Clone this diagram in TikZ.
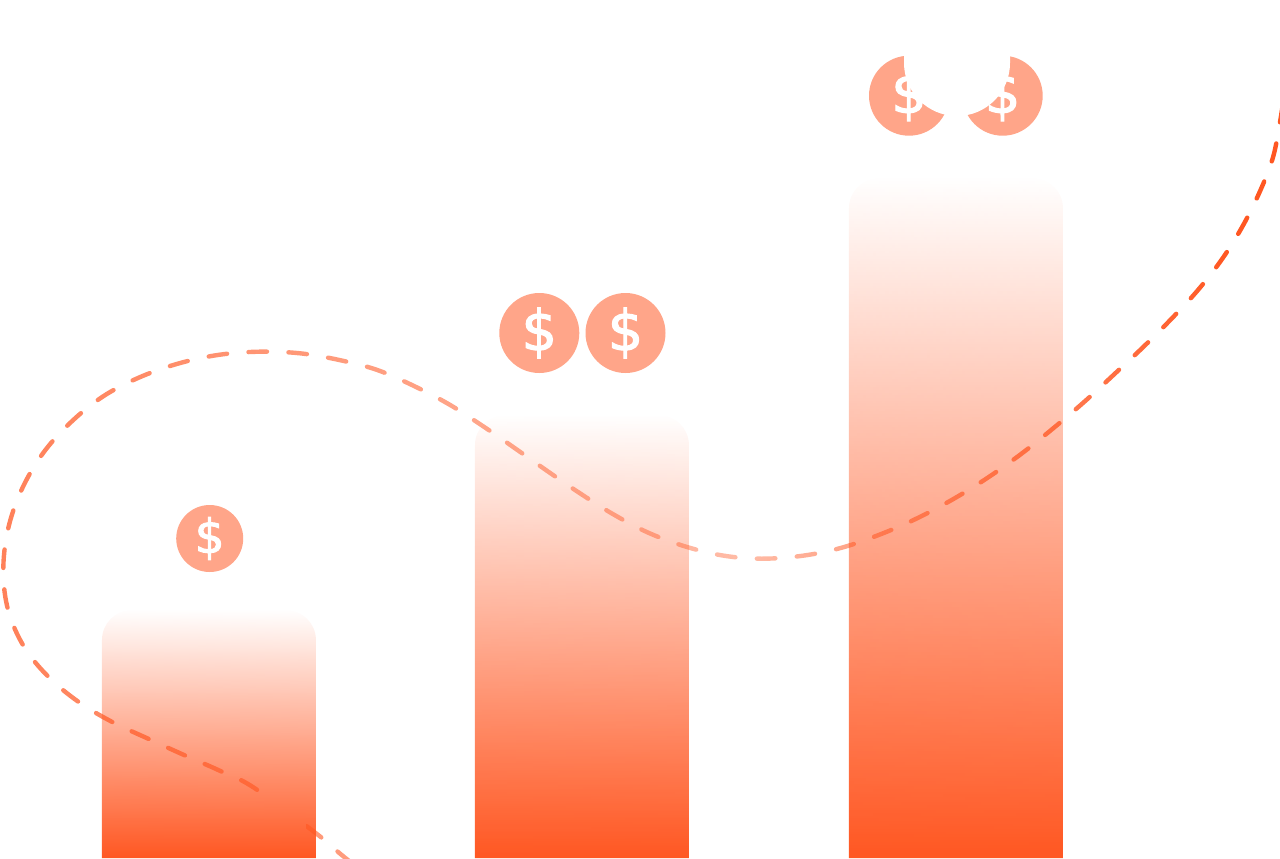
\documentclass[tikz,border=0pt]{standalone}
\usepackage{fontspec}
\setmainfont{DejaVu Sans}[FakeBold=2]
\usetikzlibrary{fadings}

\definecolor{barcolor}{HTML}{FF5722}
\definecolor{coincolor}{HTML}{FFA589}
\definecolor{trendcolor}{HTML}{FF5722}
\tikzfading[name=barfade, top color=transparent!100, bottom color=transparent!0]
\tikzfading[name=trendfadeleft, left color=transparent!75, right color=transparent!40]
\tikzfading[name=trendfaderight, left color=transparent!40, right color=transparent!100]
\tikzset{
  bar/.style={fill=barcolor, path fading=barfade},
  trend/.style={trendcolor, line width=4.4pt, line cap=round, dash pattern=on 18.5pt off 21.5pt, dash phase=13pt},
  coin/.style={circle, fill=coincolor, text=white, inner sep=0pt, minimum size=80pt, font=\fontsize{56}{56}\selectfont},
  smallcoin/.style={coin, minimum size=67pt, font=\fontsize{47}{47}\selectfont}
}

\begin{document}
\begin{tikzpicture}[x=1pt, y=-1pt]
    \useasboundingbox (0,0) rectangle (1280,859);
    % dashed trend line, one point for each dash
    \draw[trend] plot[smooth, tension=0.6] coordinates {(373,880) (341.7,855) (316,833.3) (253.3,787.3) (219.3,770.5) (184,755) (147.7,738.5) (111.7,721.7) (78.3,701.7) (48.3,676.7) (24,646.7) (8.3,610.7) (3.3,571.7) (7.7,530.7) (20.7,491.7) (41.7,455) (69,424) (101.7,397.3) (137.3,378.3) (176.7,364) (217.7,355) (259,351.7) (300,353.3) (339.3,360) (377.3,370) (414,386) (449,404.3) (482.3,425.7) (515,448.3) (547.3,471) (580,493.3) (613.3,514.3) (648.3,532.7) (686,546.7) (724,555.7) (762,558.7) (802.9,555.7) (841.7,547.7) (881.2,534) (917.7,518) (954.6,498.3) (989.2,476.7) (1022,453.3) (1053.2,428.3) (1084.4,401.7) (1114.5,374) (1144.3,346) (1172.5,317.7) (1198,290) (1221.4,260) (1241.4,228.3) (1258.3,195) (1272.2,160) (1279,128) (1285,90)};
    \fill[white, path fading=trendfadeleft] (0,100) rectangle (744,890);
    \fill[white, path fading=trendfaderight] (744,100) rectangle (1230,890);
    % line is lost in the first bar here
    \fill[white] (264,793) rectangle (306,830);
    % bars
    \fill[bar] (102,858) -- (102,640) arc[start angle=180, end angle=90, radius=30pt] -- (286,610) arc[start angle=90, end angle=0, radius=30pt] -- (316,858) -- cycle;
    \fill[bar] (475,858) -- (475,445) arc[start angle=180, end angle=90, radius=30pt] -- (659,415) arc[start angle=90, end angle=0, radius=30pt] -- (689,858) -- cycle;
    \fill[bar] (849,858) -- (849,208) arc[start angle=180, end angle=90, radius=30pt] -- (1033,178) arc[start angle=90, end angle=0, radius=30pt] -- (1063,858) -- cycle;
    % coins
    \node[smallcoin] (coinA) at (209.7,538.5) {\$};
    \node[coin] (coinB) at (539.3,333) {\$};
    \node[coin] (coinC) at (625.5,333) {\$};
    \node[coin] (coinD) at (909,95.7) {\$};
    \node[coin] (coinE) at (1002.7,95.7) {\$};
    % white patch over the top coins
    \fill[white] (904,40) -- (904,63) arc[start angle=180, end angle=360, radius=53pt] -- (1010,40) -- cycle;
\end{tikzpicture}
\end{document}
